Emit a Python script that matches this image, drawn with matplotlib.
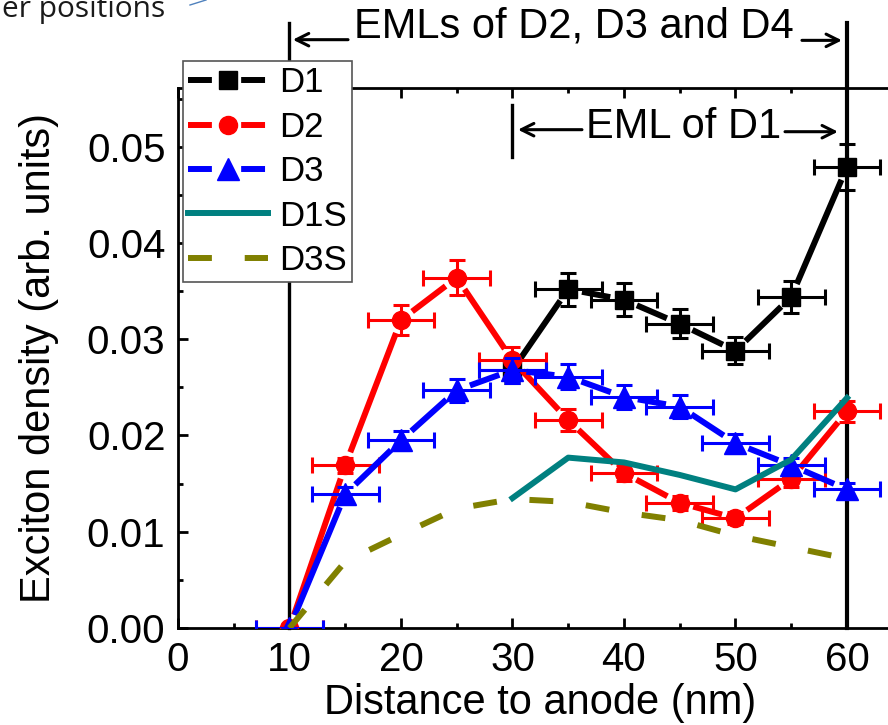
import matplotlib
matplotlib.use('Agg')
import matplotlib.pyplot as plt
from matplotlib.lines import Line2D
from matplotlib.ticker import MultipleLocator, FormatStrFormatter
import numpy as np

# ---------------- data ----------------
x_d1 = [30, 35, 40, 45, 50, 55, 60]
d1 = [0.0268, 0.0352, 0.0341, 0.0316, 0.0288, 0.0344, 0.0479]
d1_err = [0.0013, 0.0017, 0.0017, 0.0015, 0.0014, 0.0017, 0.0024]

x_all = [10, 15, 20, 25, 30, 35, 40, 45, 50, 55, 60]
d2 = [0.0, 0.0169, 0.0320, 0.0364, 0.0278, 0.0216, 0.0161, 0.0130, 0.0114, 0.0155, 0.0225]
d2_err = [0.0, 0.0008, 0.0016, 0.0018, 0.0014, 0.0011, 0.0008, 0.0007, 0.0006, 0.0008, 0.0011]
d3 = [0.0, 0.0139, 0.0195, 0.0247, 0.0268, 0.0261, 0.0240, 0.0230, 0.0192, 0.0169, 0.0144]
d3_err = [0.0, 0.0007, 0.0010, 0.0012, 0.0013, 0.0013, 0.0012, 0.0012, 0.0010, 0.0008, 0.0007]

x_d1s = [30, 35, 40, 45, 50, 55, 60]
d1s = [0.0135, 0.0177, 0.0172, 0.0159, 0.0144, 0.0175, 0.0239]
d3s = [0.0, 0.0069, 0.0097, 0.0124, 0.0134, 0.0131, 0.0120, 0.0112, 0.0096, 0.0084, 0.0072]

x_err = 3
labels = ['D1', 'D2', 'D3', 'D1S', 'D3S']
xticks = [0, 10, 20, 30, 40, 50, 60]

plt.rcParams['font.family'] = ['Liberation Sans', 'DejaVu Sans']

fig = plt.figure(figsize=(8.88, 7.25), dpi=100)
ax = fig.add_axes([0.20045, 0.13379, 0.81616, 0.74483])
ax.set_xlim(0, 65)
ax.set_ylim(0, 0.0561)

LW = 4.3
GAP = 14  # px gap between line and symbol


def gapped_line(xs, ys, color, z):
    pts = ax.transData.transform(np.column_stack([xs, ys]))
    inv = ax.transData.inverted()
    for p, q in zip(pts[:-1], pts[1:]):
        d = q - p
        L = np.hypot(*d)
        if L <= 2 * GAP:
            continue
        u = d / L
        a = inv.transform(p + u * GAP)
        b = inv.transform(q - u * GAP)
        ax.plot([a[0], b[0]], [a[1], b[1]], color=color, lw=LW,
                solid_capstyle='butt', zorder=z)


series = [
    (x_d1, d1, d1_err, 'black', 's', 13, 3),
    (x_all, d2, d2_err, '#ff0000', 'o', 13, 4),
    (x_all, d3, d3_err, '#0000ff', '^', 16, 5),
]
for xs, ys, es, c, m, ms, z in series:
    gapped_line(xs, ys, c, z)
    ax.errorbar(xs, ys, xerr=x_err, yerr=es, fmt='none', ecolor=c,
                elinewidth=2.2, capsize=6, capthick=2.2, zorder=z + 0.2)
    ax.plot(xs, ys, ls='none', marker=m, ms=ms, color=c, mec=c, zorder=z + 0.3)

ax.plot(x_d1s, d1s, color='#008080', lw=LW, zorder=6)
ax.plot(x_all, d3s, color='#808000', lw=LW, ls=(0, (4, 5.5)), zorder=6)

# EML boundary lines
top = 0.0629
ax.plot([10, 10], [0, top], color='black', lw=2.4, clip_on=False, zorder=1.5)
ax.plot([60, 60], [0, top], color='black', lw=3.0, clip_on=False, zorder=1.5)
ax.plot([30, 30], [0.04896, 0.05437], color='black', lw=2.4, clip_on=False, zorder=1.5)

arrow = dict(arrowstyle='->,head_length=0.9,head_width=0.45', lw=2.2, color='black',
             shrinkA=0, shrinkB=0)
ax.annotate('', xy=(10.3, 0.06112), xytext=(15.25, 0.06112), arrowprops=arrow,
            annotation_clip=False)
ax.annotate('', xy=(59.55, 0.06105), xytext=(55.96, 0.06105), arrowprops=arrow,
            annotation_clip=False)
ax.annotate('', xy=(30.49, 0.05177), xytext=(36.23, 0.05177), arrowprops=arrow,
            annotation_clip=False)
ax.annotate('', xy=(59.19, 0.05156), xytext=(54.44, 0.05156), arrowprops=arrow,
            annotation_clip=False)
ax.text(35.5, 0.06133, 'EMLs of D2, D3 and D4', fontsize=30, ha='center', va='baseline')
ax.text(45.3, 0.05094, 'EML of D1', fontsize=30, ha='center', va='baseline')

# axes styling
ax.set_xticks(xticks)
ax.xaxis.set_minor_locator(MultipleLocator(5))
ax.yaxis.set_major_locator(MultipleLocator(0.01))
ax.yaxis.set_minor_locator(MultipleLocator(0.005))
ax.yaxis.set_major_formatter(FormatStrFormatter('%.2f'))
ax.tick_params(which='both', direction='in', top=True, right=True, width=2)
ax.tick_params(which='major', length=7.2, labelsize=29)
ax.tick_params(axis='x', which='major', pad=9)
ax.tick_params(axis='y', which='major', pad=9)
ax.tick_params(which='minor', length=3.6)
for s in ax.spines.values():
    s.set_linewidth(2)
ax.set_xlabel('Distance to anode (nm)', fontsize=30, labelpad=3)
ax.set_ylabel('Exciton density (arb. units)', fontsize=30, labelpad=20)

# legend
handles = [
    Line2D([0], [0], color='black', lw=LW, ls=(0, (4, 4.9)), marker='s', ms=13),
    Line2D([0], [0], color='#ff0000', lw=LW, ls=(0, (4, 4.9)), marker='o', ms=13),
    Line2D([0], [0], color='#0000ff', lw=LW, ls=(0, (4, 4.9)), marker='^', ms=16),
    Line2D([0], [0], color='#008080', lw=LW),
    Line2D([0], [0], color='#808000', lw=LW, ls=(0, (4, 5.5))),
]
leg = ax.legend(handles, labels, loc='upper left', bbox_to_anchor=(183 / 888, 1 - 61 / 725),
                bbox_transform=fig.transFigure, borderaxespad=0, fontsize=25,
                handlelength=2.3, handletextpad=0.33, borderpad=0.15, labelspacing=0.33,
                fancybox=False, framealpha=1, edgecolor='#555555')
leg.get_frame().set_linewidth(1.2)
leg.set_zorder(10)

# cropped annotation remnants at top-left
fig.text(165 / 888, 1 - 17 / 725, 'er positions', ha='right', va='baseline',
         fontsize=21.5, family=['Open Sans', 'DejaVu Sans'], color='#1a1a1a')
fig.add_artist(Line2D([190 / 888, 206 / 888], [1 - 5 / 725, 1.0], color='#4f81bd', lw=1))

fig.savefig('out.png', dpi=100)
